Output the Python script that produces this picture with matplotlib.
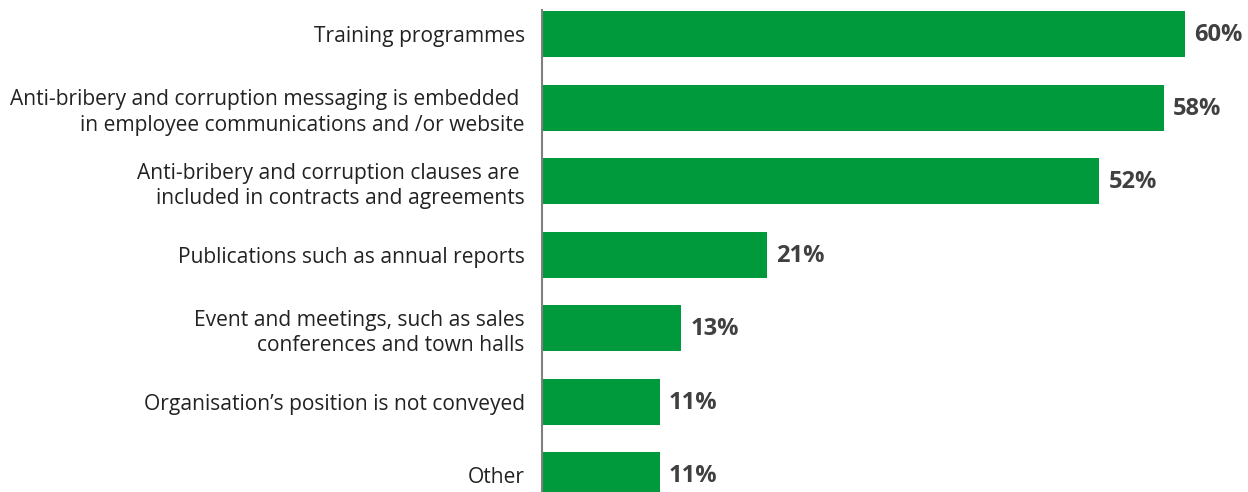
import matplotlib
matplotlib.use('Agg')
import matplotlib.pyplot as plt

categories = [
    "Training programmes",
    "Anti-bribery and corruption messaging is embedded \nin employee communications and /or website",
    "Anti-bribery and corruption clauses are \nincluded in contracts and agreements",
    "Publications such as annual reports",
    "Event and meetings, such as sales\nconferences and town halls",
    "Organisation\u2019s position is not conveyed",
    "Other",
]
values = [60, 58, 52, 21, 13, 11, 11]

plt.rcParams['font.family'] = ['Open Sans', 'DejaVu Sans']

fig = plt.figure(figsize=(12.48, 4.92), dpi=100)
# axes start at the vertical spine and run to the right and bottom edges
ax = fig.add_axes([542 / 1248, 0, 1 - 542 / 1248, 1 - 10 / 492])

step = 73.5  # pixels between bar centres
ypos = list(range(len(values)))
ax.barh(ypos, values, height=46 / step, color='#009A3D', zorder=2)

ax.set_xlim(0, (1248 - 542) / (643 / 60))
ax.set_ylim((492 - 34) / step, -24 / step)

for y, v in zip(ypos, values):
    ax.text(v + 0.85, y + 0.02, f"{v}%", va='center', ha='left',
            fontsize=17, fontweight='bold', color='#404040')

ax.set_yticks(ypos)
ax.set_yticklabels(categories, fontsize=15.1, color='#222222', linespacing=1.3)
ax.tick_params(axis='y', length=0, pad=12.5)
ax.set_xticks([])

for side in ['top', 'right', 'bottom']:
    ax.spines[side].set_visible(False)
ax.spines['left'].set_color('#7f7f7f')
ax.spines['left'].set_linewidth(1.5)

plt.savefig("out.png", dpi=100)
